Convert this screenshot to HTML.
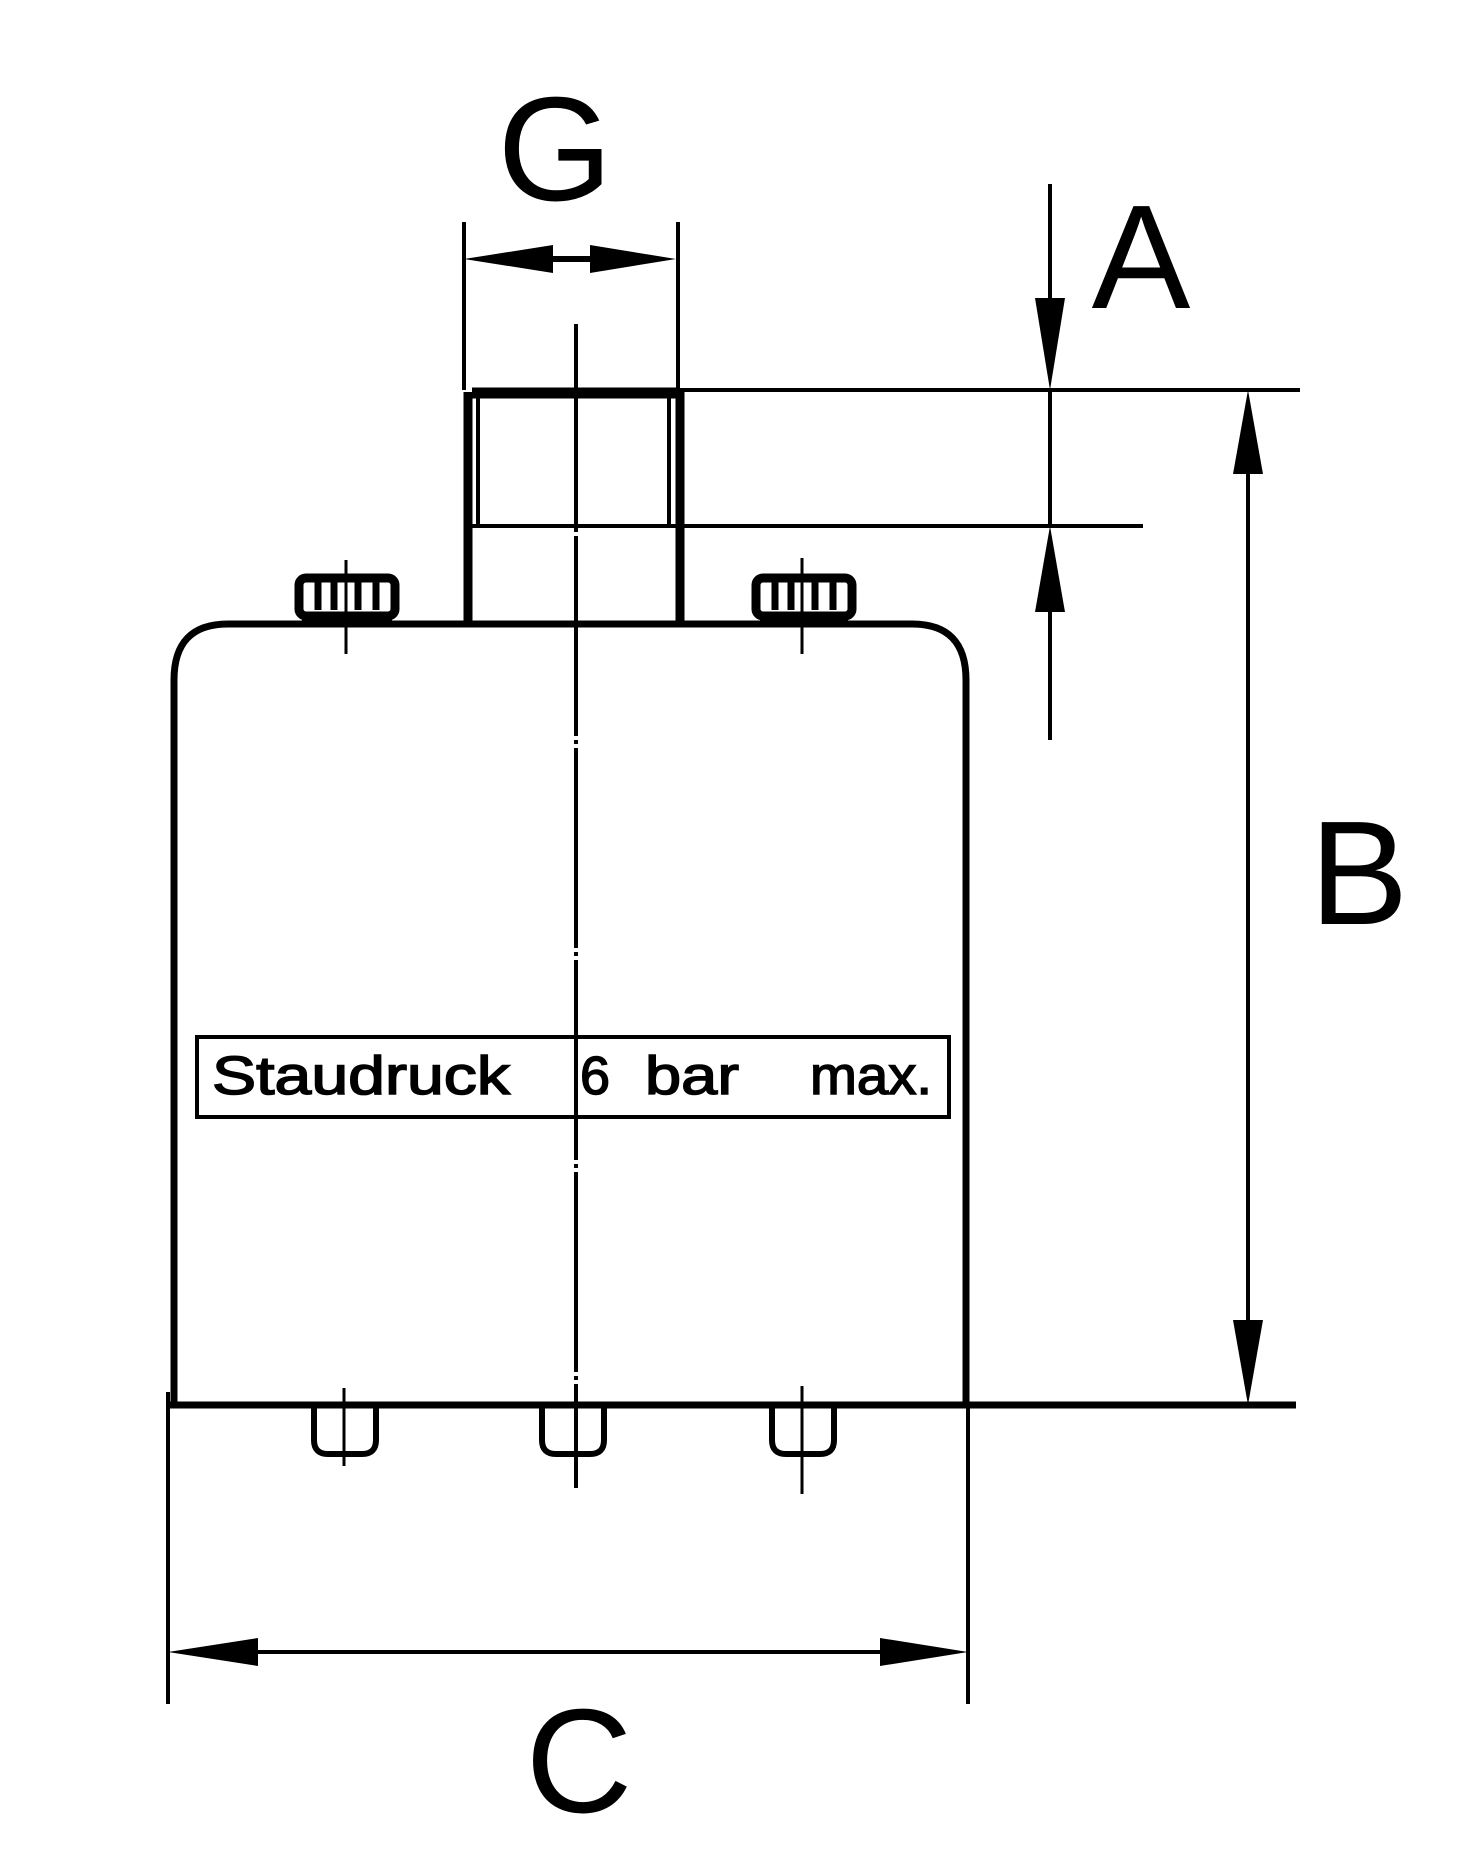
<!DOCTYPE html>
<html><head><style>html,body{margin:0;padding:0;background:#fff}svg{display:block}</style></head>
<body>
<svg width="1465" height="1869" viewBox="0 0 1465 1869" xmlns="http://www.w3.org/2000/svg">
<g stroke="#000" fill="none" stroke-linecap="butt">
  <!-- main body -->
  <path d="M174 1402 L174 680 Q174 624 228 624 L912 624 Q966 624 966 680 L966 1402" stroke-width="7"/>
  <line x1="168" y1="1405" x2="1296" y2="1405" stroke-width="7"/>
  <!-- pipe -->
  <line x1="468" y1="392" x2="468" y2="624" stroke-width="9"/>
  <line x1="680" y1="392" x2="680" y2="624" stroke-width="9"/>
  <line x1="472" y1="393" x2="676" y2="393" stroke-width="11"/>
  <line x1="478" y1="398" x2="478" y2="528" stroke-width="4"/>
  <line x1="669" y1="398" x2="669" y2="528" stroke-width="4"/>
  <line x1="472" y1="526" x2="1143" y2="526" stroke-width="4"/>
  <line x1="676" y1="390" x2="1300" y2="390" stroke-width="4"/>
  <!-- center line -->
  <line x1="576" y1="324" x2="576" y2="1488" stroke-width="4" stroke-dasharray="200 4 4 4"/>
  <!-- top nuts -->
  <rect x="299" y="578" width="96" height="38" rx="7" stroke-width="9"/>
  <line x1="302" y1="620" x2="392" y2="620" stroke-width="6"/>
  <line x1="318" y1="582" x2="318" y2="610" stroke-width="7"/>
  <line x1="334" y1="582" x2="334" y2="610" stroke-width="7"/>
  <line x1="358" y1="582" x2="358" y2="610" stroke-width="7"/>
  <line x1="376" y1="582" x2="376" y2="610" stroke-width="7"/>
  <line x1="346" y1="560" x2="346" y2="654" stroke-width="3"/>
  <rect x="756" y="578" width="96" height="38" rx="7" stroke-width="9"/>
  <line x1="760" y1="620" x2="848" y2="620" stroke-width="6"/>
  <line x1="775" y1="582" x2="775" y2="610" stroke-width="7"/>
  <line x1="791" y1="582" x2="791" y2="610" stroke-width="7"/>
  <line x1="815" y1="582" x2="815" y2="610" stroke-width="7"/>
  <line x1="833" y1="582" x2="833" y2="610" stroke-width="7"/>
  <line x1="802" y1="558" x2="802" y2="654" stroke-width="3"/>
  <!-- bottom bolts -->
  <path d="M314 1407 L314 1440 Q314 1454 328 1454 L362 1454 Q376 1454 376 1440 L376 1407" stroke-width="6"/>
  <line x1="344" y1="1388" x2="344" y2="1466" stroke-width="3"/>
  <path d="M542 1407 L542 1440 Q542 1454 556 1454 L590 1454 Q604 1454 604 1440 L604 1407" stroke-width="6"/>
  <path d="M772 1407 L772 1440 Q772 1454 786 1454 L820 1454 Q834 1454 834 1440 L834 1407" stroke-width="6"/>
  <line x1="802" y1="1386" x2="802" y2="1494" stroke-width="3"/>
  <!-- label box -->
  <rect x="197" y="1037" width="752" height="80" stroke-width="4"/>
  <!-- G dimension -->
  <line x1="464" y1="222" x2="464" y2="390" stroke-width="4"/>
  <line x1="678" y1="222" x2="678" y2="390" stroke-width="4"/>
  <line x1="550" y1="259" x2="594" y2="259" stroke-width="6"/>
  <!-- A dimension -->
  <line x1="1050" y1="184" x2="1050" y2="300" stroke-width="4"/>
  <line x1="1050" y1="390" x2="1050" y2="526" stroke-width="4"/>
  <line x1="1050" y1="610" x2="1050" y2="740" stroke-width="4"/>
  <!-- B dimension -->
  <line x1="1248" y1="470" x2="1248" y2="1320" stroke-width="4"/>
  <!-- C dimension -->
  <line x1="168" y1="1392" x2="168" y2="1704" stroke-width="4"/>
  <line x1="968" y1="1405" x2="968" y2="1704" stroke-width="4"/>
  <line x1="255" y1="1652" x2="882" y2="1652" stroke-width="4"/>
</g>
<g fill="#000">
  <polygon points="464,259 553,245 553,273"/>
  <polygon points="676,259 590,245 590,273"/>
  <polygon points="1050,390 1035,298 1065,298"/>
  <polygon points="1050,526 1035,612 1065,612"/>
  <polygon points="1248,390 1233,474 1263,474"/>
  <polygon points="1248,1405 1233,1320 1263,1320"/>
  <polygon points="168,1652 258,1638 258,1666"/>
  <polygon points="968,1652 880,1638 880,1666"/>
</g>
<g font-family="Liberation Sans, sans-serif" fill="#000" text-anchor="middle">
  <text x="555" y="200" font-size="148">G</text>
  <text x="1141" y="308" font-size="148">A</text>
  <text x="1359" y="924" font-size="148">B</text>
  <text x="579" y="1812" font-size="148">C</text>
</g>
<g font-family="Liberation Sans, sans-serif" font-size="54" fill="#000" stroke="#000" stroke-width="1.5">
  <text x="212" y="1094" textLength="298" lengthAdjust="spacingAndGlyphs">Staudruck</text>
  <text x="580" y="1094">6</text>
  <text x="645" y="1094" textLength="94" lengthAdjust="spacingAndGlyphs">bar</text>
  <text x="810" y="1094" textLength="122" lengthAdjust="spacingAndGlyphs">max.</text>
</g>
</svg>
</body></html>
